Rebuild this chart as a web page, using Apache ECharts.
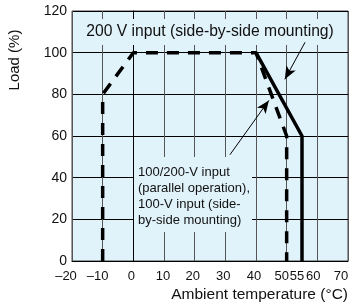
<!DOCTYPE html>
<html>
<head>
<meta charset="utf-8">
<script src="https://cdn.jsdelivr.net/npm/echarts@6/dist/echarts.min.js"></script>
<style>
html, body { margin: 0; padding: 0; background: #fff; }
#chart { width: 359px; height: 307px; }
</style>
</head>
<body>
<div id="chart"></div>
<script>
// derating curves (ambient temperature °C vs load %)
var temp200V = [40, 55, 55];
var load200V = [100, 60, 0];
var tempParallel = [-10, -10, 0, 40, 50, 50];
var loadParallel = [0, 80, 100, 100, 60, 0];
// tick labels shown on the x axis (note 55 is extra)
var xTickLabels = [-20, -10, 0, 10, 20, 30, 40, 50, 55, 60, 70];
var yTicks = [0, 20, 40, 60, 80, 100, 120];
// arrows: [from, to] in data coords
var arrow200V = [[56, 105], [49.4, 87.2]];
var arrowParallel = [[31.5, 51], [44.2, 77.1]];

var FONT = '"Liberation Sans", Arial, sans-serif';
var BG = '#e0f2fa';

function pairs(xs, ys) {
    var out = [];
    for (var i = 0; i < xs.length; i++) out.push([xs[i], ys[i]]);
    return out;
}

// the original labels sit a little left of their ticks, tightest near 50/55/60
var labelNudge = [6, 5, 2, 1, 2, 2, 2, 5, 5, 4, 7];
var xRich = {};
xTickLabels.forEach(function (v, i) {
    xRich['t' + i] = {
        fontFamily: FONT, fontSize: 13, color: '#111',
        padding: [0, labelNudge[i] * 2, 0, 0]
    };
});

var myChart = echarts.init(document.getElementById('chart'));
var option = {
    animation: false,
    grid: {
        left: 72, right: 11, top: 11, bottom: 46,
        show: true,
        backgroundColor: BG,
        borderColor: '#444',
        borderWidth: 1
    },
    xAxis: [
        {
            type: 'value', min: -20, max: 70, interval: 10,
            axisLine: { lineStyle: { color: '#000', width: 1 } },
            axisTick: { show: false },
            axisLabel: { show: false },
            splitLine: { show: true, lineStyle: { color: '#555', width: 1 } },
            name: 'Ambient temperature (°C)',
            nameLocation: 'end',
            nameGap: 0,
            nameTextStyle: {
                fontFamily: FONT, fontSize: 15.5, color: '#111',
                align: 'right', verticalAlign: 'top', padding: [26, 0, 0, 0]
            }
        },
        {
            type: 'value', min: -20, max: 70, interval: 5, position: 'bottom',
            axisLine: { show: false },
            axisTick: { show: false },
            splitLine: { show: false },
            axisLabel: {
                margin: 9,
                fontFamily: FONT, fontSize: 13, color: '#111',
                rich: xRich,
                formatter: function (v) {
                    var i = xTickLabels.indexOf(v);
                    if (i < 0) return '';
                    var s = v < 0 ? '\u2013' + Math.abs(v) : String(v);
                    return '{t' + i + '|' + s + '}';
                }
            }
        }
    ],
    yAxis: {
        type: 'value', min: yTicks[0], max: yTicks[yTicks.length - 1], interval: 20,
        axisLine: { show: true, lineStyle: { color: '#000', width: 1 } },
        axisTick: { show: false },
        axisLabel: { margin: 5, fontFamily: FONT, fontSize: 14, color: '#111' },
        splitLine: { show: true, lineStyle: { color: '#000', width: 1 } }
    },
    graphic: [
        {
            type: 'text', x: 15, y: 60, rotation: Math.PI / 2, z: 10,
            style: {
                text: 'Load (%)', font: '15px ' + FONT, fill: '#111',
                align: 'center', verticalAlign: 'middle'
            }
        },
        {
            type: 'text', x: 210, y: 32, z: 1,
            style: {
                text: '200 V input (side-by-side mounting)',
                font: '15.7px ' + FONT, fill: '#111',
                align: 'center', verticalAlign: 'middle',
                backgroundColor: BG, padding: [5, 3, 5, 3]
            }
        },
        {
            type: 'text', x: 134, y: 157, z: 1,
            style: {
                text: '100/200-V input\n(parallel operation),\n100-V input (side-\nby-side mounting)',
                font: '13px ' + FONT, fill: '#111', lineHeight: 16,
                align: 'left', verticalAlign: 'top',
                backgroundColor: BG, padding: [7, 2, 4, 4]
            }
        }
    ],
    series: [
        {
            name: '200 V',
            type: 'line',
            xAxisIndex: 0,
            data: pairs(temp200V, load200V),
            symbol: 'none',
            lineStyle: { color: '#000', width: 3.5, type: 'solid' },
            z: 3,
            markLine: {
                silent: true,
                symbol: ['none', 'arrow'],
                symbolSize: [8, 13],
                label: { show: false },
                lineStyle: { color: '#000', width: 1, type: 'solid' },
                data: [
                    [{ coord: arrow200V[0] }, { coord: arrow200V[1] }],
                    [{ coord: arrowParallel[0] }, { coord: arrowParallel[1] }]
                ]
            }
        },
        {
            name: '100/200 V parallel',
            type: 'line',
            xAxisIndex: 0,
            data: pairs(tempParallel, loadParallel),
            symbol: 'none',
            lineStyle: { color: '#000', width: 3.5, type: [12, 9] },
            z: 3
        }
    ]
};
myChart.setOption(option);
</script>
</body>
</html>
